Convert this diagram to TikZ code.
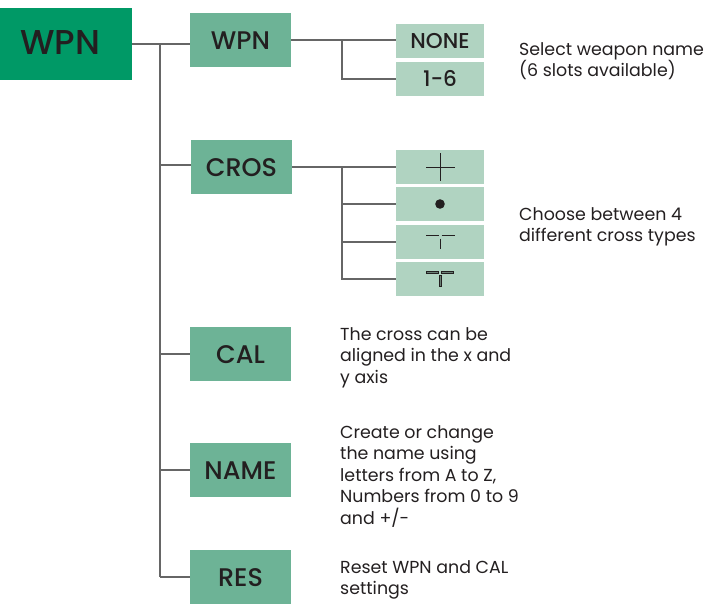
\documentclass[tikz,border=0pt]{standalone}
\usepackage{fontspec}
\setmainfont{Poppins}
\newfontfamily\medf{Poppins}[UprightFont=* Medium]
\definecolor{maing}{HTML}{009966}
\definecolor{midg}{HTML}{6DB396}
\definecolor{lightg}{HTML}{B0D3C1}
\definecolor{ink}{HTML}{231F20}
\definecolor{wire}{HTML}{666666}
\tikzset{
 mainbox/.style={fill=maing,minimum width=132pt,minimum height=72pt,inner sep=0pt,font=\medf\fontsize{34.5}{34.5}\selectfont,text=ink,text height=24.5pt,text depth=4pt},
 midbox/.style={fill=midg,minimum width=101pt,minimum height=54pt,inner sep=0pt,font=\medf\fontsize{25.5}{25.5}\selectfont,text=ink,text height=18pt,text depth=0pt},
 optbox/.style={fill=lightg,minimum width=88pt,minimum height=34pt,inner sep=0pt,font=\medf\fontsize{21.5}{21.5}\selectfont,text=ink,text height=15pt,text depth=0pt},
 note/.style={align=left,anchor=north west,inner sep=0pt,font=\fontsize{17.4}{21.5}\selectfont,text=ink},
 wired/.style={draw=wire,line width=1.1pt},
 mark1/.style={draw=ink,line width=.9pt}
}
\begin{document}
\begin{tikzpicture}[x=1pt,y=-1pt]
\useasboundingbox (0,0) rectangle (720,613);
\node[mainbox] (root) at (66,44) {WPN\kern12pt\null};
\node[midbox] (wpn) at (240.5,40) {WPN};
\node[midbox] (cros) at (241.5,167) {CROS};
\node[midbox] (cal) at (240.5,354) {CAL};
\node[midbox] (name) at (240.5,470) {NAME};
\node[midbox] (res) at (240.5,577) {RES};
\node[optbox] (none) at (440,41) {NONE};
\node[optbox] (one) at (440,79) {1-6};
\node[optbox] (c1) at (440,167) {};
\node[optbox] (c2) at (440,204) {};
\node[optbox] (c3) at (440,242) {};
\node[optbox] (c4) at (440,279) {};
\coordinate (t0) at (160,44);
\coordinate (t1) at (160,165);
\coordinate (t2) at (160,354);
\coordinate (t3) at (160,470);
\coordinate (t4) at (160,577);
\coordinate (a0) at (342,40);
\coordinate (a1) at (342,79);
\coordinate (b0) at (342,167);
\coordinate (b1) at (342,204);
\coordinate (b2) at (342,242);
\coordinate (b3) at (342,279);
\draw[wired] (root.east |- t0) -- (wpn.west |- t0);
\draw[wired] (t0) -- (t4);
\draw[wired] (t1) -- (cros.west |- t1);
\draw[wired] (t2) -- (cal.west);
\draw[wired] (t3) -- (name.west);
\draw[wired] (t4) -- (res.west);
\draw[wired] (wpn.east) -- (a0) -- (none.west |- a0);
\draw[wired] (a0) -- (a1) -- (one.west);
\draw[wired] (cros.east) -- (c1.west);
\draw[wired] (b0) -- (b3) -- (c4.west);
\draw[wired] (b1) -- (c2.west);
\draw[wired] (b2) -- (c3.west);
% cross glyphs
\draw[mark1] (426,167) -- (455,167) (440,153) -- (440,181);
\fill[ink] (440,204) circle (4.8pt);
\draw[mark1] (426,235) -- (438.5,235) (441.5,235) -- (455,235) (440,238.5) -- (440,249);
\draw[mark1,line width=.7pt,fill=lightg!60!black] (426.5,271) rectangle (438.5,273.5) (441.5,271) rectangle (453.5,273.5) (439,275.5) rectangle (441.5,286.5);
\node[note] (n1) at (519,42) {Select weapon name\\(6 slots available)};
\node[note] (n2) at (519,207) {Choose between 4\\different cross types};
\node[note] (n3) at (340,327) {The cross can be\\aligned in the x and\\y axis};
\node[note] (n4) at (340,425) {Create or change\\the name using\\letters from A to Z,\\Numbers from 0 to 9\\and +/-};
\node[note] (n5) at (340,560) {Reset WPN and CAL\\settings};
\end{tikzpicture}
\end{document}
